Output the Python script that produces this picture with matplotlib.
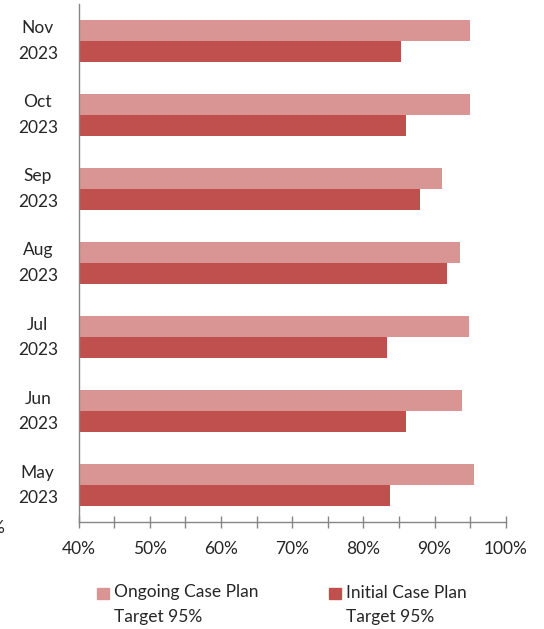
import numpy as np
import matplotlib
matplotlib.use("Agg")
import matplotlib.pyplot as plt
from matplotlib.patches import Rectangle
from matplotlib.ticker import MultipleLocator, FuncFormatter

plt.rcParams['font.family'] = ['Lato', 'DejaVu Sans']

# data, bottom to top
months = ["May\n2023", "Jun\n2023", "Jul\n2023", "Aug\n2023",
          "Sep\n2023", "Oct\n2023", "Nov\n2023"]
ongoing = [95.6, 93.9, 94.8, 93.6, 91.0, 95.0, 95.0]
initial = [83.8, 86.0, 83.3, 91.7, 87.9, 86.0, 85.3]
series_names = ["Ongoing Case Plan\nTarget 95%", "Initial Case Plan\nTarget 95%"]

c_ongoing = "#D99594"
c_initial = "#C0504D"
txt = "#262626"
grey = "#868686"
fs = 12.5

W, H = 544, 629
fig = plt.figure(figsize=(W / 100, H / 100), dpi=100)
ax = fig.add_axes([78.7 / W, 1 - 522.3 / H, (505.7 - 78.7) / W, (522.3 - 4) / H])

y = np.arange(len(months))
h = 0.283
b1 = ax.barh(y + h / 2, ongoing, height=h, color=c_ongoing, left=0)
b2 = ax.barh(y - h / 2, initial, height=h, color=c_initial, left=0)

ax.set_xlim(40, 100)
ax.set_ylim(-0.5, len(months) - 0.5)

ax.xaxis.set_major_locator(MultipleLocator(10))
ax.xaxis.set_minor_locator(MultipleLocator(5))
ax.xaxis.set_major_formatter(FuncFormatter(lambda v, p: "%d%%" % v))
ax.tick_params(axis='x', which='both', direction='inout', length=9,
               width=1, color=grey, labelsize=fs, labelcolor=txt, pad=9)

ax.set_yticks(y)
ax.set_yticklabels(months, multialignment='center', linespacing=1.72,
                   va='center')
ax.tick_params(axis='y', length=0, labelsize=fs, labelcolor=txt, pad=15)

for s in ['top', 'right']:
    ax.spines[s].set_visible(False)
for s in ['left', 'bottom']:
    ax.spines[s].set_color(grey)
    ax.spines[s].set_linewidth(1)

# clipped stray label at left edge as in the original
fig.text(4 / W, 1 - 528 / H, "%", ha='right', va='center',
         fontsize=fs, color=txt)

# legend: square aligned with the first line of a two-line label
for x0, name, col in [(97, series_names[0], c_ongoing),
                      (329.3, series_names[1], c_initial)]:
    fig.patches.append(Rectangle((x0 / W, 1 - 599 / H), 11.5 / W, 11.5 / H,
                                 transform=fig.transFigure, color=col))
    fig.text((x0 + 16.5) / W, 1 - 584.5 / H, name, ha='left', va='top',
             fontsize=fs, color=txt, linespacing=1.68)

fig.savefig("out.png", dpi=100)
